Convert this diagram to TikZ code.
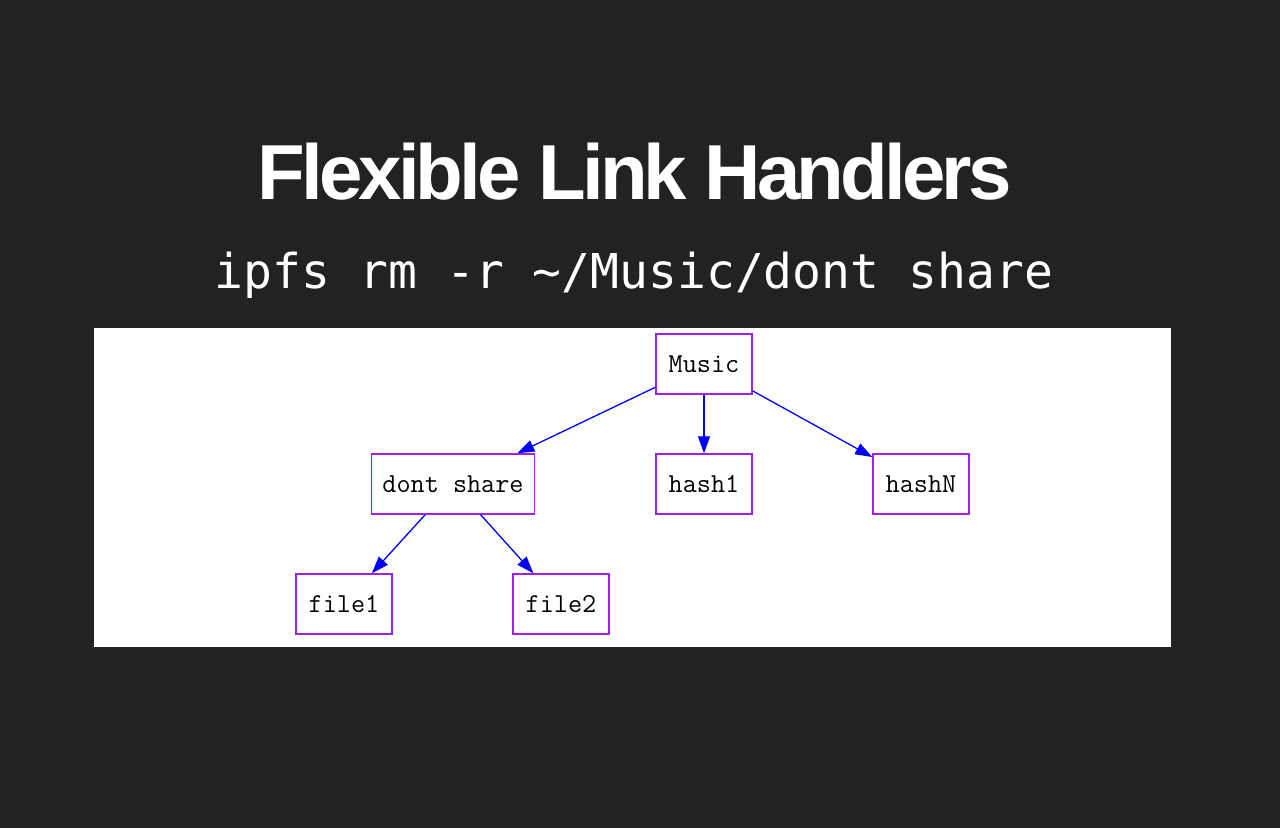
\documentclass[tikz,border=0pt]{standalone}
\usepackage{fontspec}
\usepackage{graphicx}
\usetikzlibrary{arrows.meta}
\newfontfamily\titlefont[LetterSpace=-5]{Liberation Sans}
\newfontfamily\cmdfont{DejaVu Sans Mono}
\definecolor{bg}{HTML}{222222}
\definecolor{boxpurple}{HTML}{A020F0}
\definecolor{edgeblue}{HTML}{0000FF}
\tikzset{
  treebox/.style={draw=boxpurple, line width=1.5pt, fill=white, minimum height=60pt,
    minimum width=96pt, inner xsep=11pt, font=\ttfamily\fontsize{27.4}{30}\selectfont, text=black},
  treeedge/.style={draw=edgeblue, line width=1.3pt, -{Triangle[length=17pt,width=12pt]}}
}
\begin{document}
\begin{tikzpicture}[x=1pt,y=-1pt]
\fill[bg] (0,0) rectangle (1280,828);
\useasboundingbox (0,0) rectangle (1280,828);
\node[anchor=base, text=white, inner sep=0pt] (title) at (634.5,199)
  {\titlefont\bfseries\fontsize{78}{90}\selectfont Flexible Link Handlers};
\node[anchor=base, text=white, inner sep=0pt] (cmd) at (634,288)
  {\cmdfont\fontsize{48}{56}\selectfont ipfs rm -r \char`\~/Music/dont share};
\fill[white] (94,328) rectangle (1171,647);
\node[treebox] (music) at (704,364) {Music};
\node[treebox] (dont) at (453,484) {dont share};
\node[treebox] (hash1) at (704,484) {hash1};
\node[treebox] (hashN) at (921,484) {hashN};
\node[treebox] (file1) at (344,604) {file1};
\node[treebox] (file2) at (561,604) {file2};
\draw[treeedge] (music) -- (dont);
\draw[treeedge] (music) -- (hash1);
\draw[treeedge] (music) -- (hashN);
\draw[treeedge] (dont) -- (file1);
\draw[treeedge] (dont) -- (file2);
\end{tikzpicture}
\end{document}
